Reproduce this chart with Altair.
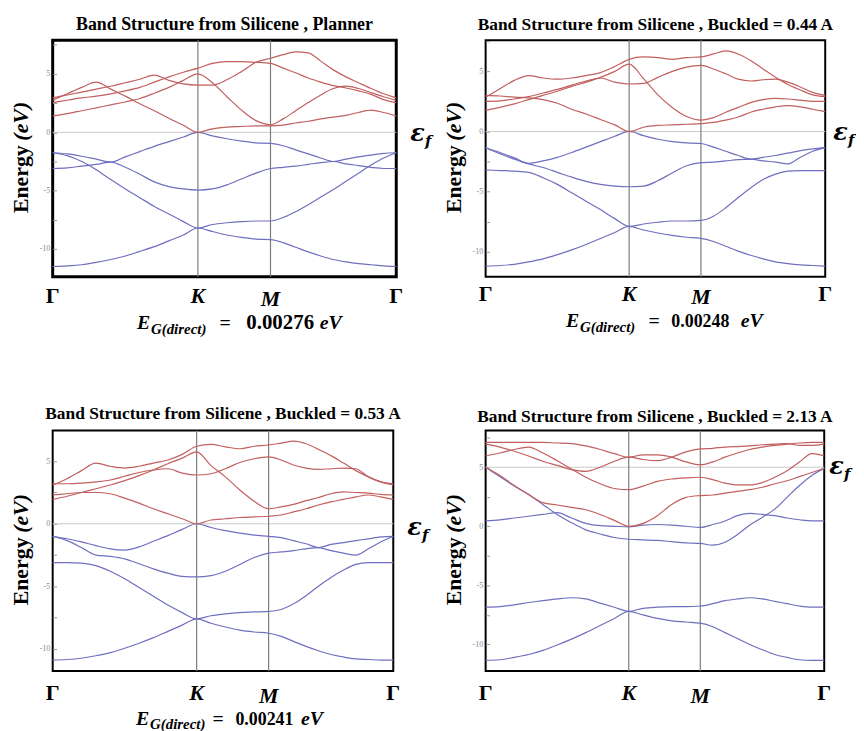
import altair as alt
import pandas as pd

# ---------------- data ----------------
# path coordinate: Gamma(0) -> K(1) -> M(1.5) -> Gamma(2.366)
X_PATH = [0.0, 0.1, 0.2, 0.3, 0.4, 0.5, 0.6, 0.7, 0.8, 0.9, 1.0,
          1.1, 1.2, 1.3, 1.4, 1.5,
          1.587, 1.673, 1.760, 1.846, 1.933, 2.020, 2.106, 2.193, 2.279, 2.366]
GAMMA_X = [0.0, 2.366]
K_X = [1.0]
M_X = [1.5]
Y_TICKS = [-10, -7.5, -5, -2.5, 0, 2.5, 5, 7.5]

TITLES = ["Band Structure from Silicene , Planner",
          "Band Structure from Silicene , Buckled = 0.44 A",
          "Band Structure from Silicene , Buckled = 0.53 A",
          "Band Structure from Silicene , Buckled = 2.13 A"]
GAPS = ["0.00276", "0.00248", "0.00241", None]
FERMI = [0.0, 0.0, 0.0, 5.0]
Y_DOMAINS = [[-12.37, 7.88], [-12.08, 7.58], [-11.76, 7.45], [-12.24, 8.1]]

# ---- panel 1 : planar ----
P1_V1 = [-11.5, -11.45, -11.35, -11.15, -10.9, -10.6, -10.2, -9.8, -9.3, -8.8, -8.2,
         -8.5, -8.8, -9.0, -9.15, -9.2,
         -9.45, -9.85, -10.25, -10.6, -10.9, -11.1, -11.25, -11.35, -11.45, -11.5]
P1_V2 = [-1.75, -2.0, -2.5, -3.2, -4.05, -4.85, -5.6, -6.35, -7.0, -7.65, -8.2,
         -7.9, -7.75, -7.65, -7.6, -7.6,
         -7.3, -6.8, -6.2, -5.55, -4.9, -4.2, -3.5, -2.8, -2.2, -1.75]
P1_V3 = [-3.1, -3.05, -2.9, -2.75, -2.55, -3.0, -3.6, -4.25, -4.65, -4.85, -4.95,
         -4.85, -4.5, -4.0, -3.5, -3.1,
         -3.0, -2.9, -2.75, -2.6, -2.5, -2.7, -2.85, -3.0, -3.1, -3.1]
P1_V4 = [-1.75, -1.85, -2.05, -2.3, -2.55, -2.1, -1.65, -1.2, -0.8, -0.4, 0.0,
         -0.3, -0.55, -0.75, -0.9, -0.95,
         -1.15, -1.5, -1.85, -2.2, -2.5, -2.3, -2.1, -1.95, -1.8, -1.75]
P1_C1 = [2.75, 3.3, 3.85, 4.3, 3.7, 3.1, 2.45, 1.85, 1.2, 0.6, 0.0,
         0.3, 0.45, 0.5, 0.55, 0.55,
         0.62, 0.8, 0.95, 1.15, 1.3, 1.45, 1.7, 1.9, 1.7, 1.4]
P1_C2 = [1.4, 1.6, 1.85, 2.1, 2.35, 2.6, 2.9, 3.35, 3.85, 4.45, 5.0,
         4.25, 3.05, 1.9, 1.0, 0.65,
         1.15, 1.85, 2.55, 3.2, 3.75, 3.95, 3.75, 3.4, 3.05, 2.75]
P1_C3 = [2.55, 2.75, 2.95, 3.1, 3.3, 3.55, 3.85, 4.3, 4.75, 5.15, 5.5,
         5.9, 6.05, 6.05, 6.0, 5.9,
         5.5, 5.1, 4.65, 4.3, 4.0, 3.8, 3.55, 3.25, 2.8, 2.55]
P1_C4 = [2.95, 3.2, 3.45, 3.7, 3.95, 4.25, 4.55, 4.9, 4.45, 4.15, 4.05,
         4.05, 4.5, 5.2, 6.0, 6.35,
         6.65, 6.9, 6.8, 6.1, 5.35, 4.75, 4.25, 3.75, 3.3, 2.95]

# ---- panel 2 : buckled 0.44 A ----
P2_V1 = [-11.2, -11.15, -11.05, -10.85, -10.6, -10.25, -9.85, -9.4, -8.9, -8.4, -7.9,
         -8.2, -8.45, -8.65, -8.8, -8.9,
         -9.15, -9.55, -9.95, -10.3, -10.6, -10.85, -11.0, -11.1, -11.15, -11.2]
P2_V2 = [-3.2, -3.25, -3.3, -3.4, -3.85, -4.4, -5.1, -5.8, -6.5, -7.25, -7.9,
         -7.7, -7.55, -7.45, -7.45, -7.4,
         -7.05, -6.35, -5.5, -4.7, -4.0, -3.55, -3.3, -3.25, -3.25, -3.25]
P2_V3 = [-1.35, -1.85, -2.3, -2.7, -3.0, -3.4, -3.8, -4.15, -4.4, -4.55, -4.6,
         -4.55, -4.1, -3.45, -2.85, -2.6,
         -2.55, -2.45, -2.35, -2.3, -2.45, -2.55, -2.7, -2.15, -1.65, -1.35]
P2_V4 = [-1.35, -1.75, -2.2, -2.65, -2.45, -2.15, -1.75, -1.3, -0.85, -0.4, 0.0,
         -0.35, -0.65, -0.85, -0.95, -1.0,
         -1.3, -1.65, -2.0, -2.3, -2.15, -2.0, -1.8, -1.6, -1.45, -1.35]
P2_C1 = [3.0, 2.95, 2.85, 2.8, 2.65, 2.35, 1.85, 1.45, 1.0, 0.55, 0.0,
         0.35, 0.5, 0.55, 0.6, 0.65,
         0.75, 0.95, 1.2, 1.6, 1.85, 2.05, 2.15, 2.05, 1.85, 1.65]
P2_C2 = [1.75, 2.0, 2.3, 2.65, 3.0, 3.35, 3.75, 4.1, 4.5, 5.0, 5.6,
         4.4, 3.05, 2.0, 1.25, 0.95,
         1.15, 1.6, 2.0, 2.4, 2.65, 2.75, 2.7, 2.6, 2.5, 2.5]
P2_C3 = [2.5, 2.55, 2.7, 2.9, 3.2, 3.5, 3.85, 4.2, 4.45, 4.1, 3.95,
         4.0, 4.5, 5.0, 5.35, 5.5,
         5.2, 4.8, 4.35, 4.2, 4.3, 4.35, 4.1, 3.7, 3.25, 3.0]
P2_C4 = [2.85, 3.55, 4.25, 4.65, 4.45, 4.35, 4.45, 4.65, 4.9, 5.4, 6.0,
         6.2, 6.15, 6.0, 6.15, 6.2,
         6.45, 6.7, 6.45, 5.9, 5.2, 4.5, 3.9, 3.45, 3.05, 2.9]

# ---- panel 3 : buckled 0.53 A ----
P3_V1 = [-10.9, -10.85, -10.75, -10.55, -10.3, -9.95, -9.55, -9.1, -8.6, -8.1, -7.6,
         -7.95, -8.25, -8.5, -8.65, -8.75,
         -9.0, -9.4, -9.8, -10.15, -10.45, -10.65, -10.8, -10.85, -10.9, -10.9]
P3_V2 = [-3.1, -3.1, -3.15, -3.35, -3.8, -4.4, -5.1, -5.8, -6.5, -7.1, -7.6,
         -7.35, -7.2, -7.1, -7.05, -7.0,
         -6.85, -6.4, -5.75, -5.0, -4.3, -3.7, -3.25, -3.1, -3.1, -3.1]
P3_V3 = [-1.0, -1.35, -1.9, -2.5, -2.6, -2.8, -3.2, -3.6, -3.95, -4.2, -4.25,
         -4.15, -3.8, -3.25, -2.7, -2.35,
         -2.25, -2.15, -2.0, -1.9, -2.15, -2.35, -2.5, -2.0, -1.45, -1.0]
P3_V4 = [-1.0, -1.2, -1.45, -1.75, -2.0, -2.1, -1.85, -1.4, -0.95, -0.45, 0.0,
         -0.3, -0.55, -0.75, -0.9, -1.0,
         -1.1, -1.35, -1.6, -1.9, -1.65, -1.5, -1.35, -1.2, -1.05, -1.0]
P3_C1 = [2.3, 2.4, 2.5, 2.5, 2.4, 2.05, 1.65, 1.2, 0.8, 0.4, 0.0,
         0.3, 0.4, 0.5, 0.55, 0.6,
         0.7, 0.95, 1.2, 1.5, 1.75, 1.95, 2.15, 2.3, 2.15, 1.95]
P3_C2 = [1.95, 2.2, 2.5, 2.8, 3.1, 3.45, 3.85, 4.3, 4.8, 5.25, 5.75,
         4.65, 3.75, 2.7, 1.8, 1.2,
         1.35, 1.55, 1.85, 2.1, 2.4, 2.55, 2.5, 2.45, 2.35, 2.3]
P3_C3 = [3.2, 3.2, 3.25, 3.35, 3.5, 3.8, 4.1, 4.3, 4.4, 4.05, 3.9,
         4.0, 4.4, 4.9, 5.2, 5.35,
         5.1, 4.7, 4.45, 4.35, 4.4, 4.45, 4.4, 3.75, 3.35, 3.2]
P3_C4 = [3.1, 3.6, 4.25, 4.85, 4.6, 4.45, 4.6, 4.85, 5.1, 5.55, 6.2,
         6.35, 6.15, 6.0, 6.2, 6.3,
         6.45, 6.6, 6.4, 5.95, 5.45, 4.85, 4.25, 3.75, 3.35, 3.1]

# ---- panel 4 : buckled 2.13 A ----
P4_V1 = [-11.35, -11.3, -11.1, -10.85, -10.5, -10.05, -9.55, -9.0, -8.4, -7.8, -7.2,
         -7.5, -7.8, -8.0, -8.1, -8.2,
         -8.5, -9.0, -9.5, -10.0, -10.45, -10.85, -11.1, -11.3, -11.35, -11.35]
P4_V2 = [-6.85, -6.8, -6.65, -6.45, -6.3, -6.15, -6.05, -6.15, -6.5, -6.85, -7.2,
         -6.95, -6.85, -6.8, -6.8, -6.75,
         -6.55, -6.3, -6.15, -6.05, -6.15, -6.35, -6.55, -6.75, -6.85, -6.85]
P4_V3 = [5.0, 4.2, 3.4, 2.7, 1.85, 1.0, 0.3, -0.3, -0.65, -0.95, -1.1,
         -1.15, -1.2, -1.3, -1.4, -1.45,
         -1.6, -1.35, -0.7, 0.1, 0.75, 1.45, 2.45, 3.45, 4.3, 4.9]
P4_V4 = [0.45, 0.55, 0.7, 0.85, 1.0, 1.15, 0.7, 0.25, 0.05, 0.0, -0.05,
         0.1, 0.15, 0.1, 0.0, -0.1,
         0.15, 0.45, 0.9, 1.1, 1.0, 0.9, 0.7, 0.55, 0.45, 0.45]
P4_C1 = [5.0, 4.3, 3.45, 2.7, 2.0, 1.8, 1.6, 1.4, 1.0, 0.5, 0.0,
         0.25, 0.9, 1.85, 2.45, 2.6,
         2.65, 2.8, 2.95, 3.1, 3.3, 3.6, 3.85, 4.2, 4.55, 4.9]
P4_C2 = [5.95, 6.2, 6.5, 6.7, 6.2, 5.55, 4.85, 4.15, 3.6, 3.2, 3.1,
         3.4, 3.8, 4.0, 4.1, 4.15,
         3.95, 3.65, 3.5, 3.5, 3.7, 4.15, 4.7, 5.45, 6.15, 5.95]
P4_C3 = [6.95, 6.7, 6.35, 5.95, 5.5, 5.15, 4.8, 4.65, 5.0, 5.5, 5.85,
         5.65, 5.55, 5.85, 6.3, 6.55,
         6.6, 6.7, 6.75, 6.8, 6.9, 6.95, 7.0, 6.85, 6.85, 6.95]
P4_C4 = [7.1, 7.1, 7.1, 7.1, 7.1, 7.05, 7.0, 6.8, 6.5, 6.15, 5.85,
         6.05, 6.05, 5.85, 5.45, 5.2,
         5.45, 5.85, 6.2, 6.5, 6.7, 6.85, 6.95, 7.05, 7.1, 7.1]

BANDS = [
    [("V1", "v", P1_V1), ("V2", "v", P1_V2), ("V3", "v", P1_V3), ("V4", "v", P1_V4),
     ("C1", "c", P1_C1), ("C2", "c", P1_C2), ("C3", "c", P1_C3), ("C4", "c", P1_C4)],
    [("V1", "v", P2_V1), ("V2", "v", P2_V2), ("V3", "v", P2_V3), ("V4", "v", P2_V4),
     ("C1", "c", P2_C1), ("C2", "c", P2_C2), ("C3", "c", P2_C3), ("C4", "c", P2_C4)],
    [("V1", "v", P3_V1), ("V2", "v", P3_V2), ("V3", "v", P3_V3), ("V4", "v", P3_V4),
     ("C1", "c", P3_C1), ("C2", "c", P3_C2), ("C3", "c", P3_C3), ("C4", "c", P3_C4)],
    [("V1", "v", P4_V1), ("V2", "v", P4_V2), ("V3", "v", P4_V3), ("V4", "v", P4_V4),
     ("C1", "c", P4_C1), ("C2", "c", P4_C2), ("C3", "c", P4_C3), ("C4", "c", P4_C4)],
]

# ---------------- styling / layout ----------------
SERIF = "Liberation Serif"
BLUE = "#6f6fbf"
RED = "#c25f5f"

LAYOUT = [
    dict(w=346, h=238, sw=3, tfs=18, tdy=-10, eps_dx=14, eps_dy=9, sym_dy=27, eg_x=85, eg_dy=53,
         eg_off=[0, 14, 83, 110, 184], nfs=21),
    dict(w=342, h=238, sw=2, tfs=17.5, tdy=-10, eps_dx=8, eps_dy=9, sym_dy=25, eg_x=81, eg_dy=51,
         eg_off=[0, 14, 83, 106, 176], nfs=18),
    dict(w=343, h=242, sw=2, tfs=17.5, tdy=-12, eps_dx=14, eps_dy=11, sym_dy=29, eg_x=84, eg_dy=54,
         eg_off=[0, 14, 77, 100, 166], nfs=18),
    dict(w=341, h=242, sw=2, tfs=17.5, tdy=-9, eps_dx=5, eps_dy=7, sym_dy=29, eg_x=0, eg_dy=0,
         eg_off=[0, 0, 0, 0, 0], nfs=18),
]


def txt(s):
    return alt.Chart(pd.DataFrame({"t": [s]}))


def panel(idx):
    L = LAYOUT[idx]
    w, h = L["w"], L["h"]
    ydom = Y_DOMAINS[idx]
    xs = alt.Scale(domain=[0, 2.366], nice=False, zero=False)
    ys = alt.Scale(domain=ydom, nice=False, zero=False)
    yaxis = alt.Axis(values=[v for v in Y_TICKS if ydom[0] <= v <= ydom[1]],
                     labelExpr="datum.value % 5 === 0 ? '' + datum.value : ''",
                     labelFont=SERIF, labelFontSize=8, labelColor="#8a8a8a",
                     labelPadding=3, tickColor="#9a9a9a", tickSize=4, tickWidth=1,
                     domain=False, grid=False, title=None, offset=-4)

    def X():
        return alt.X("x:Q", scale=xs, axis=None)

    def Y():
        return alt.Y("E:Q", scale=ys, axis=yaxis)

    rows = []
    for name, kind, vals in BANDS[idx]:
        for x, e in zip(X_PATH, vals):
            rows.append({"x": x, "E": e, "band": name, "kind": kind})
    df = pd.DataFrame(rows)

    fermi_df = pd.DataFrame({"E": [FERMI[idx]]})
    layers = [
        alt.Chart(fermi_df).mark_rule(color="#c9c9c9", strokeWidth=1).encode(y=Y()),
        alt.Chart(pd.DataFrame({"x": K_X + M_X})).mark_rule(color="#7d7d7d", strokeWidth=1.2).encode(x=X()),
        alt.Chart(df).mark_line(strokeWidth=1.2, interpolate="monotone").encode(
            x=X(), y=Y(),
            color=alt.Color("kind:N", scale=alt.Scale(domain=["v", "c"], range=[BLUE, RED]), legend=None),
            detail="band:N"),
        # title
        txt(TITLES[idx]).mark_text(font=SERIF, fontSize=L["tfs"], fontWeight="bold", color="black",
                                   align="center", baseline="alphabetic").encode(
            x=alt.value(w / 2), y=alt.value(L["tdy"]), text="t:N"),
        # y title
        txt("Energy").mark_text(font=SERIF, fontSize=22, fontWeight="bold", color="black",
                                angle=270, align="left", baseline="alphabetic").encode(
            x=alt.value(-25), y=alt.value(h / 2 + 55), text="t:N"),
        txt("(eV)").mark_text(font=SERIF, fontSize=22, fontWeight="bold", fontStyle="italic",
                              color="black", angle=270, align="left", baseline="alphabetic").encode(
            x=alt.value(-25), y=alt.value(h / 2 - 18), text="t:N"),
        # high symmetry labels
        alt.Chart(pd.DataFrame({"x": GAMMA_X, "t": ["Γ", "Γ"]})).mark_text(
            font=SERIF, fontSize=22, fontWeight="bold", color="black", baseline="alphabetic").encode(
            x=X(), y=alt.value(h + L["sym_dy"]), text="t:N"),
        alt.Chart(pd.DataFrame({"x": K_X, "t": ["K"]})).mark_text(
            font=SERIF, fontSize=22, fontWeight="bold", fontStyle="italic", color="black",
            baseline="alphabetic").encode(
            x=X(), y=alt.value(h + L["sym_dy"]), text="t:N"),
        alt.Chart(pd.DataFrame({"x": M_X, "t": ["M"]})).mark_text(
            font=SERIF, fontSize=22, fontWeight="bold", fontStyle="italic", color="black",
            baseline="alphabetic").encode(
            x=X(), y=alt.value(h + L["sym_dy"] + 3), text="t:N"),
        # epsilon_f at the Fermi level
        alt.Chart(fermi_df.assign(t="ε")).mark_text(
            font="DejaVu Serif", fontSize=24, fontWeight="bold", fontStyle="italic", color="black",
            align="left", baseline="alphabetic", dy=L["eps_dy"]).encode(
            x=alt.value(w + L["eps_dx"]), y=Y(), text="t:N"),
        alt.Chart(fermi_df.assign(t="f")).mark_text(
            font="DejaVu Serif", fontSize=15, fontWeight="bold", fontStyle="italic", color="black",
            align="left", baseline="alphabetic", dy=L["eps_dy"] + 5).encode(
            x=alt.value(w + L["eps_dx"] + 15), y=Y(), text="t:N"),
    ]

    if GAPS[idx] is not None:
        x0 = L["eg_x"]
        yb = h + L["eg_dy"]
        off = L["eg_off"]
        layers += [
            txt("E").mark_text(font=SERIF, fontSize=20, fontWeight="bold", fontStyle="italic",
                               color="black", align="left", baseline="alphabetic").encode(
                x=alt.value(x0 + off[0]), y=alt.value(yb), text="t:N"),
            txt("G(direct)").mark_text(font=SERIF, fontSize=15, fontWeight="bold", fontStyle="italic",
                                       color="black", align="left", baseline="alphabetic").encode(
                x=alt.value(x0 + off[1]), y=alt.value(yb + 5), text="t:N"),
            txt("=").mark_text(font=SERIF, fontSize=20, fontWeight="bold",
                               color="black", align="left", baseline="alphabetic").encode(
                x=alt.value(x0 + off[2]), y=alt.value(yb), text="t:N"),
            txt(GAPS[idx]).mark_text(font=SERIF, fontSize=L["nfs"], fontWeight="bold",
                                     color="black", align="left", baseline="alphabetic").encode(
                x=alt.value(x0 + off[3]), y=alt.value(yb), text="t:N"),
            txt("eV").mark_text(font=SERIF, fontSize=20, fontWeight="bold", fontStyle="italic",
                                color="black", align="left", baseline="alphabetic").encode(
                x=alt.value(x0 + off[4]), y=alt.value(yb), text="t:N"),
        ]

    return alt.layer(*layers).properties(
        width=w, height=h,
        view=alt.ViewBackground(stroke="black", strokeWidth=L["sw"]))


chart = alt.concat(panel(0), panel(1), panel(2), panel(3), columns=2).properties(
    spacing={"row": 155, "column": 90},
    bounds="flush",
    padding={"left": 0, "top": 4, "right": 0, "bottom": 0},
    background="white",
).configure_view(stroke="black", strokeWidth=2)

chart.save("out.html", embed_options={"renderer": "svg", "actions": False})
